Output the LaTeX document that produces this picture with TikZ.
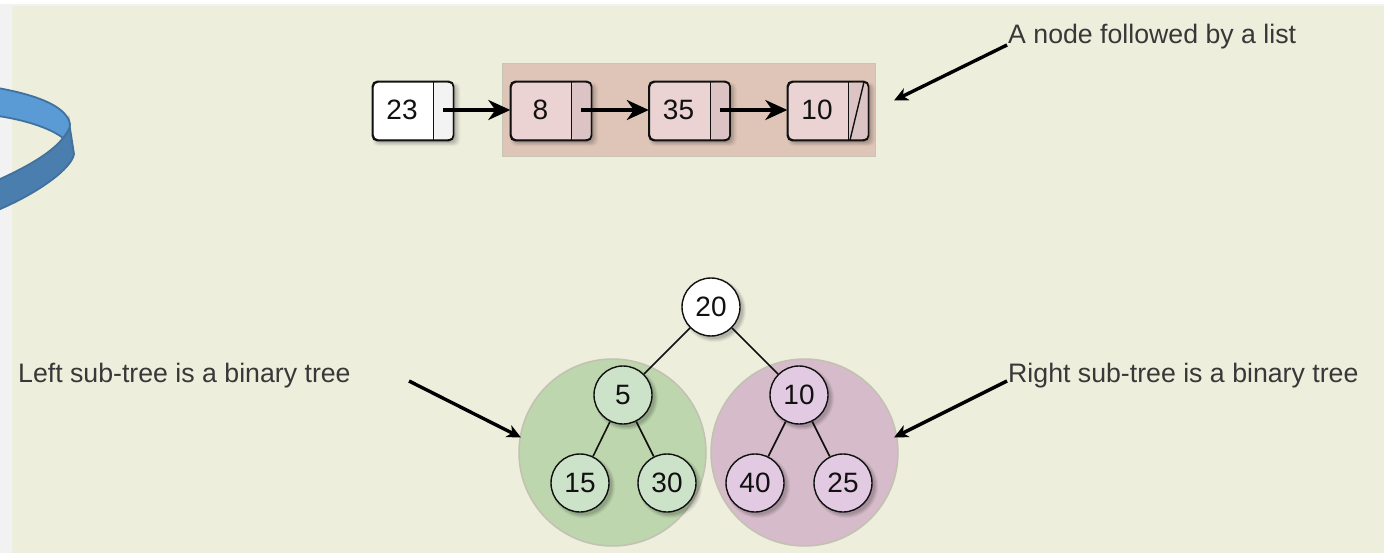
\documentclass[tikz,border=0pt]{standalone}
\usepackage{fontspec}
\setmainfont{Liberation Sans}
\usetikzlibrary{arrows.meta,shadows,calc}
\definecolor{pagebg}{HTML}{F2F2F2}
\definecolor{panelbg}{HTML}{EDEEDC}
\definecolor{ink}{HTML}{111111}
\definecolor{hilite}{HTML}{DFC5B7}
\definecolor{hiliteedge}{HTML}{C7C6B5}
\definecolor{pinkcell}{HTML}{EAD3D2}
\definecolor{pinkptr}{HTML}{DCC4C4}
\definecolor{greencircle}{HTML}{BDD6AE}
\definecolor{purplecircle}{HTML}{D6BBCA}
\definecolor{circleedge}{HTML}{C2C1B2}
\definecolor{greennode}{HTML}{CCE3CA}
\definecolor{purplenode}{HTML}{E3CAE3}
\definecolor{ribbonlight}{HTML}{5B9BD5}
\definecolor{ribbondark}{HTML}{4A7EAF}
\definecolor{ribbonedge}{HTML}{41719C}
\tikzset{
  x=1pt,y=-1pt,
  softshadow/.style={
    general shadow={shadow xshift=3pt,shadow yshift=-3pt,shadow scale=1.10,fill=black,opacity=.035},
    general shadow={shadow xshift=3pt,shadow yshift=-3pt,shadow scale=1.07,fill=black,opacity=.05},
    general shadow={shadow xshift=3pt,shadow yshift=-3pt,shadow scale=1.04,fill=black,opacity=.07},
    general shadow={shadow xshift=3pt,shadow yshift=-3pt,fill=black,opacity=.09}},
  listbox/.style={draw=ink,line width=1.4pt,rounded corners=5pt,minimum width=80pt,minimum height=58pt,inner sep=0pt,softshadow},
  treenode/.style={circle,draw=ink,line width=1.4pt,minimum size=58pt,inner sep=0pt,font=\fontsize{28}{28}\selectfont,softshadow},
  bigcircle/.style={circle,draw=circleedge,line width=1.5pt,minimum size=187pt,inner sep=0pt},
  numtext/.style={font=\fontsize{28}{28}\selectfont,inner sep=0pt,text=ink},
  caption/.style={font=\fontsize{26.7}{28}\selectfont,text=black!78,inner sep=0pt,anchor=base west},
  link/.style={line width=3.4pt,-{Stealth[length=22pt,width=20pt,inset=7pt]}},
  note/.style={line width=3.4pt,-{Stealth[length=14pt,width=13pt,inset=4pt]}},
  edge/.style={line width=1.6pt,draw=ink}
}
\begin{document}
\begin{tikzpicture}
\useasboundingbox (0,0) rectangle (1384,553);
\fill[white] (0,0) rectangle (1384,553);
\fill[pagebg] (0,4) rectangle (1384,553);
\fill[panelbg] (12,6) rectangle (1384,553);
% ribbon
\begin{scope}
\clip (0,0) rectangle (1384,553);
\path[fill=ribbondark,draw=ribbonedge,line width=1.8pt]
  (-2,180) .. controls (20,170) and (50,155) .. (63,138)
  .. controls (66,134) and (69,128) .. (69,122)
  -- (74,154) .. controls (72,168) and (40,192) .. (-2,210) -- cycle;
\path[fill=ribbonlight,draw=ribbonedge,line width=1.8pt]
  (-2,88) .. controls (30,94) and (66,104) .. (70,124)
  .. controls (70,130) and (66,134) .. (63,138)
  .. controls (50,128) and (25,120) .. (-2,116) -- cycle;
\end{scope}
% highlight
\node[draw=hiliteedge,fill=hilite,line width=1.5pt,minimum width=373pt,minimum height=93pt,inner sep=0pt] (hl) at (689,110) {};
% list
\node[listbox,fill=white] (b1) at (413,111) {};
\node[listbox,fill=pinkcell] (b2) at (551,111) {};
\node[listbox,fill=pinkcell] (b3) at (689.5,111) {};
\node[listbox,fill=pinkcell] (b4) at (828,111) {};
\foreach \n/\c in {b1/pagebg!95!white,b2/pinkptr,b3/pinkptr,b4/pinkptr}{
  \fill[\c,rounded corners=4pt] ($(\n.east)+(-20,-28)$) rectangle ($(\n.east)+(-1,28)$);
  \draw[ink,line width=1.4pt] ($(\n.east)+(-20,-29)$) -- ($(\n.east)+(-20,29)$);
  \draw[ink,line width=1.4pt,rounded corners=5pt] (\n.north west) rectangle (\n.south east);
}
\coordinate (n1) at (850,140);
\coordinate (n2) at (864,82);
\draw[ink,line width=1.4pt] (n1) -- (n2);
\node[numtext] (t1) at (402,110) {23};
\node[numtext] (t2) at (540.5,110) {8};
\node[numtext] (t3) at (678.5,110) {35};
\node[numtext] (t4) at (817,110) {10};
\coordinate (p1) at (443,110);
\coordinate (p2) at (581,110);
\coordinate (p3) at (720,110);
\draw[link] (p1) -- (b2.west |- p1);
\draw[link] (p2) -- (b3.west |- p2);
\draw[link] (p3) -- (b4.west |- p3);
% tree background
\node[bigcircle,fill=greencircle] (gc) at (612.5,452.5) {};
\node[bigcircle,fill=purplecircle] (pc) at (804.5,452.5) {};
% tree
\node[treenode,fill=white,text=ink] (n20) at (711,307) {20};
\node[treenode,fill=greennode,text=ink] (n5) at (623,395) {5};
\node[treenode,fill=purplenode,text=ink] (n10) at (799,395) {10};
\node[treenode,fill=greennode,text=ink] (n15) at (580,483) {15};
\node[treenode,fill=greennode,text=ink] (n30) at (667,483) {30};
\node[treenode,fill=purplenode,text=ink] (n40) at (755,483) {40};
\node[treenode,fill=purplenode,text=ink] (n25) at (843,483) {25};
\draw[edge] (n20) -- (n5);
\draw[edge] (n20) -- (n10);
\draw[edge] (n5) -- (n15);
\draw[edge] (n5) -- (n30);
\draw[edge] (n10) -- (n40);
\draw[edge] (n10) -- (n25);
% captions
\node[caption] (c1) at (1008,44) {A node followed by a list};
\node[caption] (c2) at (18,382) {Left sub-tree is a binary tree};
\node[caption] (c3) at (1008,382) {Right sub-tree is a binary tree};
\coordinate (a1) at (1007,45);
\coordinate (a1e) at (894,100.5);
\coordinate (a2) at (409,381);
\coordinate (a2e) at (521,437.5);
\coordinate (a3) at (1007,381);
\coordinate (a3e) at (894,437.5);
\draw[note] (a1) -- (a1e);
\draw[note] (a2) -- (a2e);
\draw[note] (a3) -- (a3e);
\end{tikzpicture}
\end{document}
